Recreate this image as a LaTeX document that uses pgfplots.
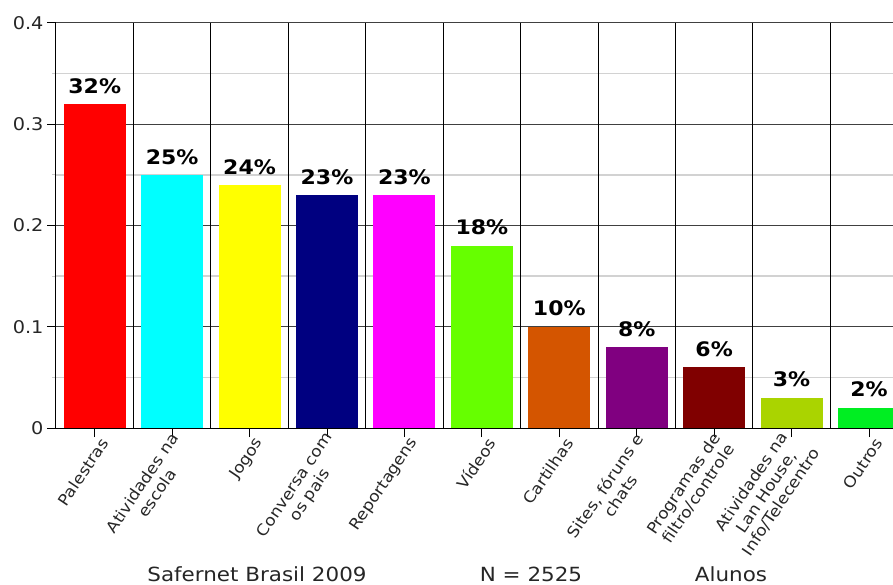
\documentclass[border=0pt]{standalone}
\usepackage{fontspec}
\setmainfont{DejaVu Sans}[FakeStretch=1.1]
\usepackage{pgfplots}
\pgfplotsset{compat=1.18}
\definecolor{c1}{HTML}{FF0000}
\definecolor{c2}{HTML}{00FFFF}
\definecolor{c3}{HTML}{FFFF00}
\definecolor{c4}{HTML}{000080}
\definecolor{c5}{HTML}{FF00FF}
\definecolor{c6}{HTML}{66FF00}
\definecolor{c7}{HTML}{D45500}
\definecolor{c8}{HTML}{800080}
\definecolor{c9}{HTML}{800000}
\definecolor{c10}{HTML}{AAD400}
\definecolor{c11}{HTML}{00EE22}
\pgfplotsset{mybar/.style={ybar, bar width=0.8, bar shift=0pt, draw=none, fill=#1}}
\begin{document}
\begin{tikzpicture}
\path[use as bounding box] (-56pt,-156pt) rectangle (837pt,428pt);
\begin{axis}[
  scale only axis, width=837pt, height=405pt,
  xmin=-0.5, xmax=10.31, ymin=0, ymax=0.4,
  axis x line*=bottom, axis y line*=left,
  axis line style={-, black, line width=1pt},
  xtick={0,...,10},
  xticklabels={Palestras,{Atividades na\\escola},Jogos,{Conversa com\\os pais},Reportagens,Vídeos,Cartilhas,{Sites, fóruns e\\chats},{Programas de\\filtro/controle},{Atividades na\\Lan House,\\Info/Telecentro},Outros},
  ytick={0,0.1,0.2,0.3,0.4},
  yticklabels={0,0.1,0.2,0.3,0.4},
  minor ytick={0.05,0.15,0.25,0.35},
  tick align=outside, major tick length=9pt, minor tick length=4pt,
  major tick style={black, line width=1pt},
  minor tick style={gray!40, line width=1pt},
  ymajorgrids, yminorgrids,
  major y grid style={black!75, line width=1pt},
  minor y grid style={gray!35, line width=1.3pt},
  extra x ticks={0.5,1.5,...,9.5},
  extra x tick labels={},
  extra x tick style={grid=major, major tick length=0pt, major grid style={black, line width=1pt}},
  y tick label style={font=\fontsize{17.5}{20}\selectfont, text=black!85},
  x tick label style={font=\fontsize{15.5}{18}\selectfont, xshift=12pt, rotate=56, anchor=east, align=center, text=black!85},
  /pgf/number format/assume math mode=true,
  point meta=explicit symbolic,
  nodes near coords,
  every node near coord/.append style={font=\bfseries\fontsize{20}{22}\selectfont, anchor=south, yshift=7pt},
  clip=true,
]
\addplot[mybar=c1] coordinates {(0,0.32) [32\%]};
\addplot[mybar=c2] coordinates {(1,0.25) [25\%]};
\addplot[mybar=c3] coordinates {(2,0.24) [24\%]};
\addplot[mybar=c4] coordinates {(3,0.23) [23\%]};
\addplot[mybar=c5] coordinates {(4,0.23) [23\%]};
\addplot[mybar=c6] coordinates {(5,0.18) [18\%]};
\addplot[mybar=c7] coordinates {(6,0.10) [10\%]};
\addplot[mybar=c8] coordinates {(7,0.08) [8\%]};
\addplot[mybar=c9] coordinates {(8,0.06) [6\%]};
\addplot[mybar=c10] coordinates {(9,0.03) [3\%]};
\addplot[mybar=c11] coordinates {(10,0.02) [2\%]};
\end{axis}
\node[anchor=base, font=\fontsize{19.5}{22}\selectfont, text=black!85] at (201pt,-153pt) {Safernet Brasil 2009};
\node[anchor=base, font=\fontsize{19.5}{22}\selectfont, text=black!85] at (475pt,-153pt) {N = 2525};
\node[anchor=base, font=\fontsize{19.5}{22}\selectfont, text=black!85] at (675pt,-153pt) {Alunos};
\end{tikzpicture}
\end{document}
